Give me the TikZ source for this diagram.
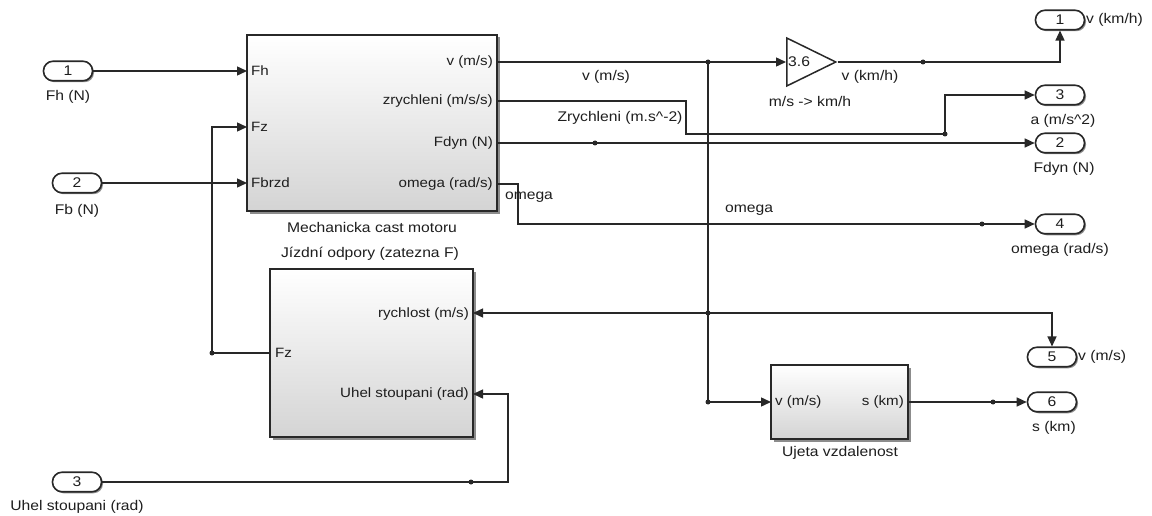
\documentclass[tikz,border=0pt]{standalone}
\usepackage{fontspec}
\setmainfont{Liberation Sans}[FakeStretch=1.12]
\usetikzlibrary{arrows.meta,shadows,shapes.geometric}
\definecolor{ln}{RGB}{40,40,40}
\definecolor{tx}{RGB}{30,30,30}
\definecolor{bb}{RGB}{212,212,212}
\definecolor{shd}{RGB}{140,140,140}
\begin{document}
\begin{tikzpicture}[x=1pt,y=-1pt,
  font=\fontsize{14}{16}\selectfont, text=tx,
  sig/.style={draw=ln, line width=1.4pt},
  arr/.style={sig, -{Triangle[length=10pt,width=9pt]}},
  blk/.style={draw=ln, line width=1.5pt, rectangle, top color=white, bottom color=bb, inner sep=0,
    drop shadow={shadow xshift=2.5pt, shadow yshift=-2.5pt, fill=shd, opacity=1}},
  ioport/.style={draw=ln, line width=1.6pt, rounded corners=9.5pt, minimum width=49pt, minimum height=19.5pt,
    fill=white, inner sep=0, drop shadow={shadow xshift=1.5pt, shadow yshift=-1.5pt, fill=shd, opacity=1}},
  jdot/.style={circle, fill=ln, inner sep=0, minimum size=5pt},
  lab/.style={inner sep=0},
  ptxt/.style={inner sep=0, font=\fontsize{13.5}{15}\selectfont}
]
\useasboundingbox[fill=white] (0,0) rectangle (1152,516);

% blocks
\node[blk, minimum width=250pt, minimum height=176pt] (mech) at (372,123) {};
\node[blk, minimum width=203pt, minimum height=168pt] (odp) at (371.5,353) {};
\node[blk, minimum width=137pt, minimum height=74pt] (uj) at (839.5,402) {};
\node[draw=ln, line width=1.5pt, fill=white, isosceles triangle, isosceles triangle stretches,
  minimum width=48pt, minimum height=49pt, inner sep=0, anchor=west] (gain) at (786,62) {};
\node[lab, anchor=west] (gaintxt) at (788,62) {3.6};

% block titles
\node[lab] (mechl) at (372,227) {Mechanicka cast motoru};
\node[lab] (odpl) at (370,254) {Jízdní odpory (zatezna F)};
\node[lab] (ujl) at (840,453) {Ujeta vzdalenost};
\node[lab] (gainl) at (810,101) {m/s -> km/h};

% port texts
\node[ptxt, anchor=west] (tFh) at (251,71) {Fh};
\node[ptxt, anchor=west] (tFz) at (251,127) {Fz};
\node[ptxt, anchor=west] (tFb) at (251,183) {Fbrzd};
\node[ptxt, anchor=east] (tv) at (493,62) {v (m/s)};
\node[ptxt, anchor=east] (tz) at (493,101) {zrychleni (m/s/s)};
\node[ptxt, anchor=east] (tfd) at (493,143) {Fdyn (N)};
\node[ptxt, anchor=east] (tom) at (493,184) {omega (rad/s)};
\node[ptxt, anchor=east] (tr) at (469,314) {rychlost (m/s)};
\node[ptxt, anchor=east] (tu) at (469,394) {Uhel stoupani (rad)};
\node[ptxt, anchor=west] (tlz) at (275,353) {Fz};
\node[ptxt, anchor=west] (tuv) at (775,402) {v (m/s)};
\node[ptxt, anchor=east] (tus) at (904,402) {s (km)};

% inports
\node[ioport] (in1) at (68,71) {1};
\node[lab] (in1l) at (68,97) {Fh (N)};
\node[ioport] (in2) at (77,183) {2};
\node[lab] (in2l) at (77,211) {Fb (N)};
\node[ioport] (in3) at (77,482) {3};
\node[lab] (in3l) at (77,507) {Uhel stoupani (rad)};

% outports
\node[ioport] (out1) at (1060,20) {1};
\node[lab, anchor=west] (out1l) at (1086,20) {v (km/h)};
\node[ioport] (out3) at (1060,95) {3};
\node[lab] (out3l) at (1063,121) {a (m/s\textasciicircum 2)};
\node[ioport] (out2) at (1060,143) {2};
\node[lab] (out2l) at (1064,169) {Fdyn (N)};
\node[ioport] (out4) at (1060,224) {4};
\node[lab] (out4l) at (1060,250) {omega (rad/s)};
\node[ioport] (out5) at (1052,357) {5};
\node[lab, anchor=west] (out5l) at (1078,357) {v (m/s)};
\node[ioport] (out6) at (1052,402) {6};
\node[lab] (out6l) at (1054,428) {s (km)};

% port coordinates
\coordinate (mFh) at (247,71);
\coordinate (mFz) at (247,127);
\coordinate (mFb) at (247,183);
\coordinate (mV) at (497,62);
\coordinate (mZ) at (497,101);
\coordinate (mFd) at (497,143);
\coordinate (mOm) at (497,184);
\coordinate (lV) at (473,313);
\coordinate (lU) at (473,394);
\coordinate (lFz) at (270,353);
\coordinate (uV) at (771,402);
\coordinate (uS) at (908,402);
\coordinate (zA) at (686,101);
\coordinate (oA) at (518,184);
\coordinate (c3) at (508,482);

% junction dots
\node[jdot] (jv1) at (708,62) {};
\node[jdot] (jv2) at (708,313) {};
\node[jdot] (jv3) at (708,402) {};
\node[jdot] (jFz) at (212,353) {};
\node[jdot] (d1) at (923,62) {};
\node[jdot] (zB) at (945,134) {};
\node[jdot] (dFd) at (595,143) {};
\node[jdot] (dOm) at (982,224) {};
\node[jdot] (dS) at (993,402) {};
\node[jdot] (dU) at (471,482) {};

% connectors
\draw[arr] (in1.east) -- (mFh);
\draw[arr] (in2.east) -- (mFb);
\draw[arr] (lFz) -- (jFz.center) |- (mFz);
\draw[sig] (mV) -- (jv1.center);
\draw[arr] (jv1.center) -- (gain.west);
\draw[sig] (gain.apex) -- (d1.center);
\draw[arr] (d1.center) -| (out1.south);
\draw[arr] (mZ) -- (zA) |- (zB.center) |- (out3.west);
\draw[arr] (mFd) -- (out2.west);
\draw[arr] (mOm) -- (oA) |- (out4.west);
\draw[sig] (jv1.center) -- (jv3.center);
\draw[arr] (jv2.center) -- (lV);
\draw[arr] (jv2.center) -| (out5.north);
\draw[arr] (jv3.center) -- (uV);
\draw[arr] (uS) -- (out6.west);
\draw[arr] (in3.east) -- (c3) |- (lU);

% line labels
\node[lab] (lv) at (606,77) {v (m/s)};
\node[lab] (lz) at (620,118) {Zrychleni (m.s\textasciicircum -2)};
\node[lab] (lo1) at (529,197) {omega};
\node[lab] (lo2) at (749,210) {omega};
\node[lab] (lkm) at (870,77) {v (km/h)};
\end{tikzpicture}
\end{document}
